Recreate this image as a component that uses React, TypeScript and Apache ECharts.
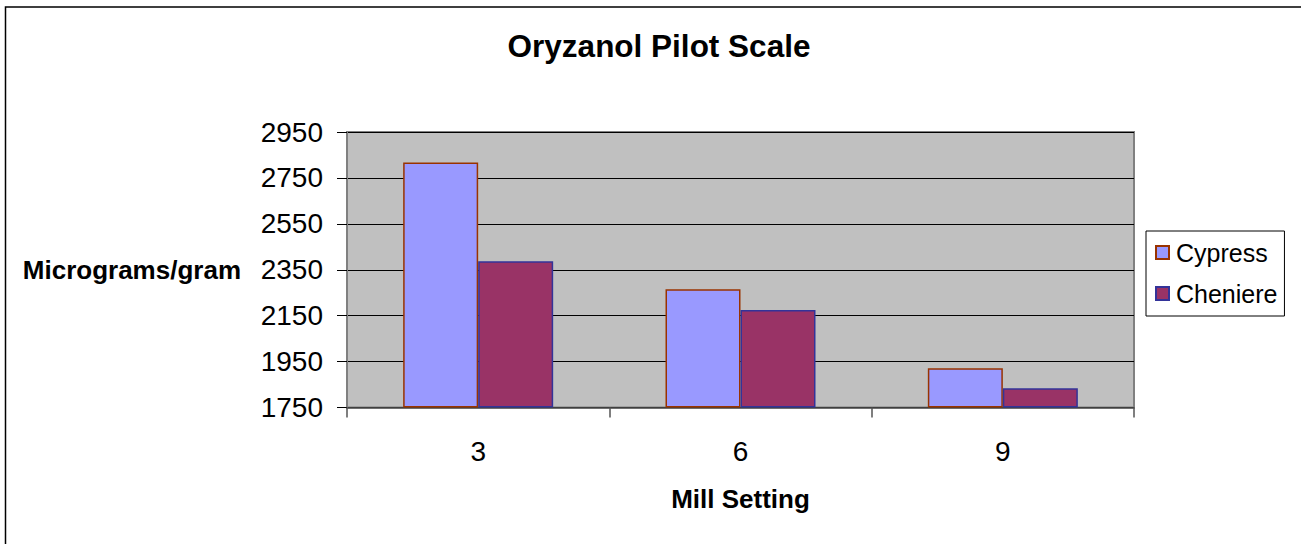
import React, { useEffect, useRef } from "react";
import * as echarts from "echarts";

const title = "Oryzanol Pilot Scale";
const categories = ["3", "6", "9"];
const cypress = [2817, 2265, 1921];
const cheniere = [2387, 2175, 1834];
const yMin = 1750;
const yMax = 2950;
const yStep = 200;
const yName = "Micrograms/gram";
const xName = "Mill Setting";
const FONT = "'Liberation Sans', Arial, sans-serif";

export default function App() {
  const ref = useRef<HTMLDivElement>(null);
  useEffect(() => {
    if (!ref.current) return;
    const chart = echarts.init(ref.current, null, { renderer: "svg" });
    chart.setOption({
      animation: false,
      backgroundColor: "#ffffff",
      textStyle: { fontFamily: FONT },
      title: {
        text: title,
        left: 654,
        top: 25,
        textAlign: "center",
        textStyle: { fontFamily: FONT, fontSize: 31.5, fontWeight: "bold", color: "#000" },
      },
      graphic: [
        {
          type: "rect",
          shape: { x: 5.5, y: 7, width: 1400, height: 700 },
          style: { fill: "none", stroke: "#000", lineWidth: 1.5 },
          silent: true,
          z: 100,
        },
      ],
      legend: {
        orient: "vertical",
        left: 1146,
        top: 231,
        padding: [9, 7, 10, 9],
        itemGap: 16,
        itemWidth: 13,
        itemHeight: 13,
        icon: "rect",
        backgroundColor: "#ffffff",
        borderColor: "#000",
        borderWidth: 1,
        textStyle: { fontFamily: FONT, fontSize: 25, color: "#000", padding: [0, 0, 0, 2] },
        data: ["Cypress", "Cheniere"],
      },
      grid: {
        left: 347,
        right: 167,
        top: 132,
        bottom: 136.5,
        show: true,
        backgroundColor: "#C0C0C0",
        borderColor: "#808080",
        borderWidth: 2,
      },
      xAxis: {
        type: "category",
        data: categories,
        name: xName,
        nameLocation: "middle",
        nameGap: 78,
        nameTextStyle: { fontFamily: FONT, fontSize: 26, fontWeight: "bold", color: "#000" },
        axisLine: { show: true, lineStyle: { color: "#555", width: 1.5 } },
        axisTick: { show: true, length: 10, inside: false, lineStyle: { color: "#555", width: 1.5 } },
        axisLabel: { margin: 30, fontFamily: FONT, fontSize: 28, color: "#000" },
        splitLine: { show: false },
      },
      yAxis: {
        type: "value",
        min: yMin,
        max: yMax,
        interval: yStep,
        startValue: yMin,
        name: yName,
        nameLocation: "middle",
        nameRotate: 0,
        nameGap: 106,
        nameTextStyle: { fontFamily: FONT, fontSize: 26, fontWeight: "bold", color: "#000" },
        axisLine: { show: true, lineStyle: { color: "#808080", width: 2 } },
        axisTick: { show: true, length: 10, inside: false, lineStyle: { color: "#000", width: 1 } },
        axisLabel: {
          margin: 24,
          fontFamily: FONT,
          fontSize: 28,
          color: "#000",
          formatter: (v: number) => String(v),
        },
        splitLine: { show: true, lineStyle: { color: "#000", width: 1 } },
      },
      series: [
        {
          name: "Cypress",
          type: "bar",
          data: cypress,
          barWidth: 75,
          barGap: "0%",
          itemStyle: { color: "#9999FF", borderColor: "#993300", borderWidth: 1.5 },
        },
        {
          name: "Cheniere",
          type: "bar",
          data: cheniere,
          barWidth: 75,
          barGap: "0%",
          itemStyle: { color: "#993366", borderColor: "#333399", borderWidth: 1.5 },
        },
      ],
    });
    return () => chart.dispose();
  }, []);
  return (
    <div
      ref={ref}
      style={{ position: "fixed", left: 0, top: 0, width: 1301, height: 544 }}
    />
  );
}
